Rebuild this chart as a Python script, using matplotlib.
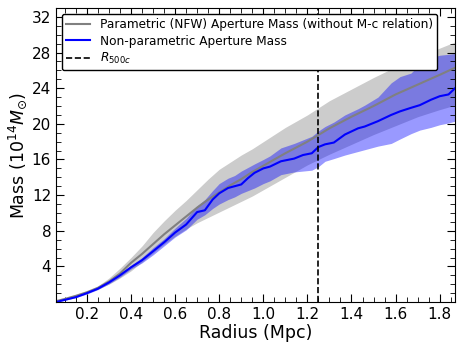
import numpy as np
import matplotlib
matplotlib.use("Agg")
import matplotlib.pyplot as plt
from matplotlib.ticker import AutoMinorLocator

# parametric (NFW) aperture mass, median and band
r_nfw = [0.06, 0.10, 0.15, 0.20, 0.25, 0.30, 0.35, 0.40, 0.45, 0.50, 0.55, 0.60,
         0.65, 0.70, 0.75, 0.80, 0.85, 0.90, 0.95, 1.00, 1.10, 1.20, 1.30, 1.40,
         1.50, 1.60, 1.70, 1.80, 1.87]
m_nfw = [0.1, 0.35, 0.7, 1.1, 1.6, 2.3, 3.2, 4.4, 5.4, 6.5, 7.6, 8.6,
         9.6, 10.6, 11.5, 12.3, 13.1, 13.8, 14.6, 15.3, 16.7, 18.0, 19.5, 20.8,
         22.0, 23.3, 24.4, 25.5, 26.3]
m_nfw_hi = [0.1, 0.4, 0.75, 1.2, 1.8, 2.7, 3.8, 5.0, 6.3, 7.8, 9.1, 10.3,
            11.4, 12.6, 13.8, 14.9, 15.7, 16.5, 17.2, 18.0, 19.6, 21.0, 22.6, 23.9,
            25.2, 26.4, 27.5, 28.5, 29.2]
m_nfw_lo = [0.1, 0.3, 0.6, 1.0, 1.45, 2.0, 2.7, 3.5, 4.5, 5.5, 6.5, 7.4,
            8.2, 8.9, 9.5, 10.1, 10.7, 11.3, 11.9, 12.6, 14.0, 15.4, 16.6, 17.7,
            18.8, 19.8, 20.8, 21.6, 22.1]

# non-parametric aperture mass, median and band
r_np = [0.06, 0.10, 0.15, 0.20, 0.25, 0.30, 0.35, 0.40, 0.45, 0.50, 0.55, 0.60,
        0.65, 0.70, 0.735, 0.77, 0.80, 0.84, 0.87, 0.90, 0.93, 0.96, 1.00, 1.03,
        1.08, 1.14, 1.18, 1.22, 1.25, 1.28, 1.32, 1.37, 1.43, 1.46, 1.52, 1.58,
        1.62, 1.67, 1.71, 1.76, 1.80, 1.84, 1.87]
m_np = [0.0, 0.25, 0.55, 1.0, 1.5, 2.2, 3.0, 3.9, 4.7, 5.7, 6.7, 7.8,
        8.7, 10.1, 10.3, 11.5, 12.2, 12.8, 13.0, 13.2, 13.9, 14.5, 15.0, 15.2,
        15.8, 16.1, 16.5, 16.7, 17.4, 17.7, 17.9, 18.8, 19.5, 19.7, 20.3, 21.0,
        21.4, 21.8, 22.1, 22.7, 23.1, 23.3, 24.0]
m_np_hi = [0.02, 0.3, 0.6, 1.1, 1.6, 2.35, 3.2, 4.1, 5.0, 6.1, 7.1, 8.3,
           9.4, 10.8, 11.5, 12.5, 13.3, 13.9, 14.2, 14.7, 15.1, 15.5, 16.0, 16.4,
           17.3, 17.8, 18.2, 18.6, 19.2, 19.7, 20.2, 21.0, 21.7, 22.1, 23.0, 24.6,
           25.3, 25.7, 26.7, 27.4, 27.7, 27.8, 27.9]
m_np_lo = [0.0, 0.2, 0.5, 0.9, 1.4, 2.05, 2.8, 3.7, 4.4, 5.3, 6.3, 7.3,
           8.1, 9.3, 9.8, 10.5, 11.0, 11.5, 11.8, 12.2, 12.5, 12.8, 13.3, 13.6,
           14.3, 14.6, 14.7, 14.8, 15.2, 15.8, 16.1, 16.5, 16.9, 17.1, 17.5, 17.8,
           18.3, 18.9, 19.3, 19.6, 19.9, 20.1, 20.3]

r500c = 1.25

fig = plt.figure(figsize=(4.63, 3.48), dpi=100)
ax = fig.add_axes([0.121, 0.132, 0.862, 0.845])

ax.fill_between(r_nfw, m_nfw_lo, m_nfw_hi, color="gray", alpha=0.4, lw=0)
ax.plot(r_nfw, m_nfw, color="gray", lw=1.5,
        label="Parametric (NFW) Aperture Mass (without M-c relation)")
ax.fill_between(r_np, m_np_lo, m_np_hi, color="blue", alpha=0.4, lw=0)
ax.plot(r_np, m_np, color="blue", lw=1.5, label="Non-parametric Aperture Mass")
ax.axvline(r500c, color="black", ls="--", lw=1.2, label="$R_{500c}$")

ax.set_xlim(0.06, 1.87)
ax.set_ylim(0, 33)
ax.set_yticks(np.arange(4, 33, 4))
ax.set_xticks(np.arange(0.2, 1.81, 0.2))
ax.xaxis.set_minor_locator(AutoMinorLocator(4))
ax.yaxis.set_minor_locator(AutoMinorLocator(4))
ax.tick_params(which="both", direction="in", top=True, right=True, labelsize=11)
ax.tick_params(which="major", length=6)
ax.tick_params(which="minor", length=3.5)

ax.set_xlabel("Radius (Mpc)", fontsize=12.5, labelpad=1.5)
ax.set_ylabel(r"Mass ($10^{14}M_{\odot}$)", fontsize=12.5, labelpad=2)

leg = ax.legend(loc="upper left", fontsize=8.7, framealpha=1, edgecolor="black",
                labelspacing=0.28, borderpad=0.35)
leg.get_frame().set_linewidth(1.0)

fig.savefig("out.png", dpi=100)
